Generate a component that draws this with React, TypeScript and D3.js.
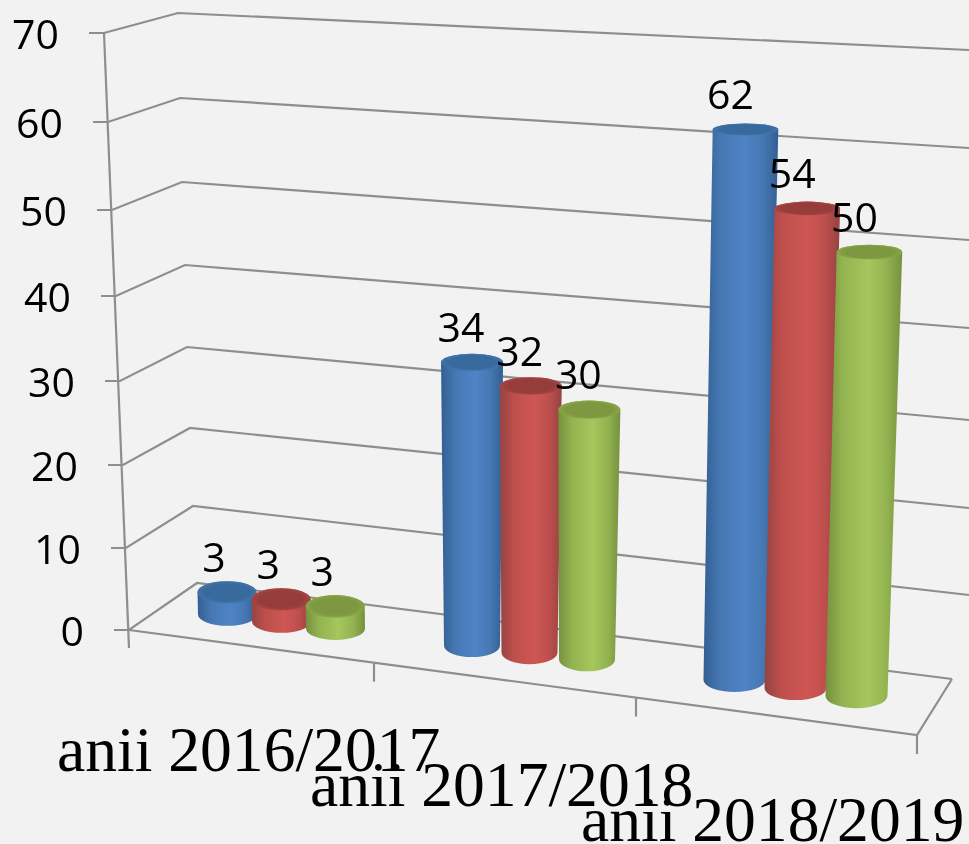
import React from "react";
import * as d3 from "d3";

const categories = ["anii 2016/2017", "anii 2017/2018", "anii 2018/2019"];
const seriesBlue = [3, 34, 62];
const seriesRed = [3, 32, 54];
const seriesGreen = [3, 30, 50];
const valueTicks = [0, 10, 20, 30, 40, 50, 60, 70];

const W = 969, H = 844;
const SANS = "'Open Sans', Lato, sans-serif";
const GRID = "#8e8e8e";

// perspective frame: value -> position along the three vertical edges of the box
const frontX = d3.scaleLinear(valueTicks, [129, 126, 123, 120, 116, 112, 108, 104]);
const frontY = d3.scaleLinear(valueTicks, [630, 548, 465, 381, 296, 210, 122, 33]);
const backX = d3.scaleLinear(valueTicks, [197, 193, 190, 187, 185, 182, 180, 178]);
const backY = d3.scaleLinear(valueTicks, [583, 506, 428, 347, 265, 182, 98, 13]);
const rightX = (v: number) => (v === 0 ? 952 : 969);
const rightY = d3.scaleLinear(valueTicks, [679, 595, 508, 420, 328, 240, 148, 50]);

// front floor edge
const floorX = d3.scaleLinear([0, 1, 2, 3], [129, 374, 636, 917]);
const floorY = d3.scaleLinear([129, 917], [630, 735]);

// cylinder foot position for a category / series
const idx = [0, 1, 2];
const footX = d3.scaleLinear(idx, [227.5, 472, 734.5]);
const footY = d3.scaleLinear(idx, [614.5, 645.5, 680]);
const stepX = d3.scaleLinear(idx, [54, 57.5, 61]);
const stepY = d3.scaleLinear(idx, [7, 7, 8]);
const unitPx = d3.scaleLinear(idx, [7.4, 8.33, 8.88]);
const footR = d3.scaleLinear(idx, [29.5, 28, 31]);
const topR = d3.scaleLinear(idx, [29.5, 31, 32.8]);
const labelDx = d3.scaleLinear(idx, [-13, -11, -15]);
const ryAt = d3.scaleLinear([130, 680], [6, 12]);
const catLabelX = d3.scaleLinear(idx, [57, 310, 581]);
const catLabelY = d3.scaleLinear(idx, [771, 806, 841]);

const series = [
  { id: "b", values: seriesBlue, edge: "#335f92", soft: "#4577b2", mid: "#4f84c6", top: "#386a9e", rim: "#4273aa" },
  { id: "r", values: seriesRed, edge: "#944341", soft: "#bd4f4d", mid: "#cf5654", top: "#963d3b", rim: "#a84644" },
  { id: "g", values: seriesGreen, edge: "#76903f", soft: "#93b350", mid: "#a5c75c", top: "#7d9840", rim: "#89a647" },
];

function geometry(cat: number, ser: number, v: number) {
  const x0 = footX(cat) + stepX(cat) * ser;
  const y0 = footY(cat) + stepY(cat) * ser;
  const y1 = y0 - unitPx(cat) * v;
  const x1 = x0 + (x0 - 470) * 0.00067 * v;
  const r0 = footR(cat), r1 = topR(cat);
  return { x0, y0, x1, y1, r0, r1, ry0: ryAt(y0), ry1: ryAt(y1) };
}

export default function App() {
  const gridPath = d3.line();
  return (
    <svg
      width={W}
      height={H}
      viewBox={`0 0 ${W} ${H}`}
      style={{ position: "absolute", left: 0, top: 0, display: "block" }}
    >
      <defs>
        {series.map((s) => (
          <linearGradient key={s.id} id={`side-${s.id}`} x1="0" x2="1" y1="0" y2="0">
            <stop offset="0" stopColor={s.edge} />
            <stop offset="0.22" stopColor={s.soft} />
            <stop offset="0.55" stopColor={s.mid} />
            <stop offset="0.8" stopColor={s.soft} />
            <stop offset="1" stopColor={s.edge} />
          </linearGradient>
        ))}
        {series.map((s) => (
          <radialGradient key={s.id} id={`top-${s.id}`} cx="0.5" cy="0.5" r="0.5">
            <stop offset="0.75" stopColor={s.top} />
            <stop offset="1" stopColor={s.rim} />
          </radialGradient>
        ))}
        <filter id="soft" x="-5%" y="-5%" width="110%" height="110%">
          <feGaussianBlur stdDeviation="0.6" />
        </filter>
      </defs>
      <rect width={W} height={H} fill="#f2f2f2" />
      <g filter="url(#soft)">
        <g fill="none" stroke={GRID} strokeWidth={2.2}>
          <path
            d={
              gridPath([
                [frontX(70), frontY(70)],
                [frontX(0), frontY(0) + 18],
              ]) || ""
            }
          />
          {valueTicks.map((v) => (
            <path
              key={v}
              d={
                gridPath([
                  [frontX(v) - 15, frontY(v)],
                  [frontX(v), frontY(v)],
                  [backX(v), backY(v)],
                  [rightX(v), rightY(v)],
                ]) || ""
              }
            />
          ))}
          <path
            d={
              gridPath([
                [frontX(0), frontY(0)],
                [floorX(3), floorY(floorX(3))],
                [rightX(0), rightY(0)],
              ]) || ""
            }
          />
          {[1, 2, 3].map((i) => (
            <path
              key={i}
              d={
                gridPath([
                  [floorX(i), floorY(floorX(i))],
                  [floorX(i), floorY(floorX(i)) + 19],
                ]) || ""
              }
            />
          ))}
        </g>

        {categories.map((_, c) =>
          series.map((s, k) => {
            const g = geometry(c, k, s.values[c]);
            const d = [
              `M${g.x0 - g.r0},${g.y0}`,
              `L${g.x1 - g.r1},${g.y1}`,
              `A${g.r1},${g.ry1} 0 0 1 ${g.x1 + g.r1},${g.y1}`,
              `L${g.x0 + g.r0},${g.y0}`,
              `A${g.r0},${g.ry0} 0 0 1 ${g.x0 - g.r0},${g.y0}Z`,
            ].join(" ");
            return (
              <g key={`${c}-${s.id}`}>
                <path d={d} fill={`url(#side-${s.id})`} />
                <ellipse cx={g.x1} cy={g.y1} rx={g.r1} ry={g.ry1} fill={`url(#top-${s.id})`} />
              </g>
            );
          })
        )}

        <g fontFamily={SANS} fontSize={41} fill="#000">
          {valueTicks.map((v) => (
            <text key={v} x={frontX(v) - 45} y={frontY(v) + 1} dy="0.36em" textAnchor="end">
              {v}
            </text>
          ))}
          {categories.map((_, c) =>
            series.map((s, k) => {
              const g = geometry(c, k, s.values[c]);
              return (
                <text
                  key={`${c}-${s.id}`}
                  x={g.x1 + labelDx(c)}
                  y={g.y1 - 35}
                  dy="0.36em"
                  textAnchor="middle"
                >
                  {s.values[c]}
                </text>
              );
            })
          )}
        </g>

        <g fontFamily="'Liberation Serif', serif" fontSize={63.6} fill="#000">
          {categories.map((name, c) => (
            <text key={name} x={catLabelX(c)} y={catLabelY(c)}>
              {name}
            </text>
          ))}
        </g>
      </g>
    </svg>
  );
}
